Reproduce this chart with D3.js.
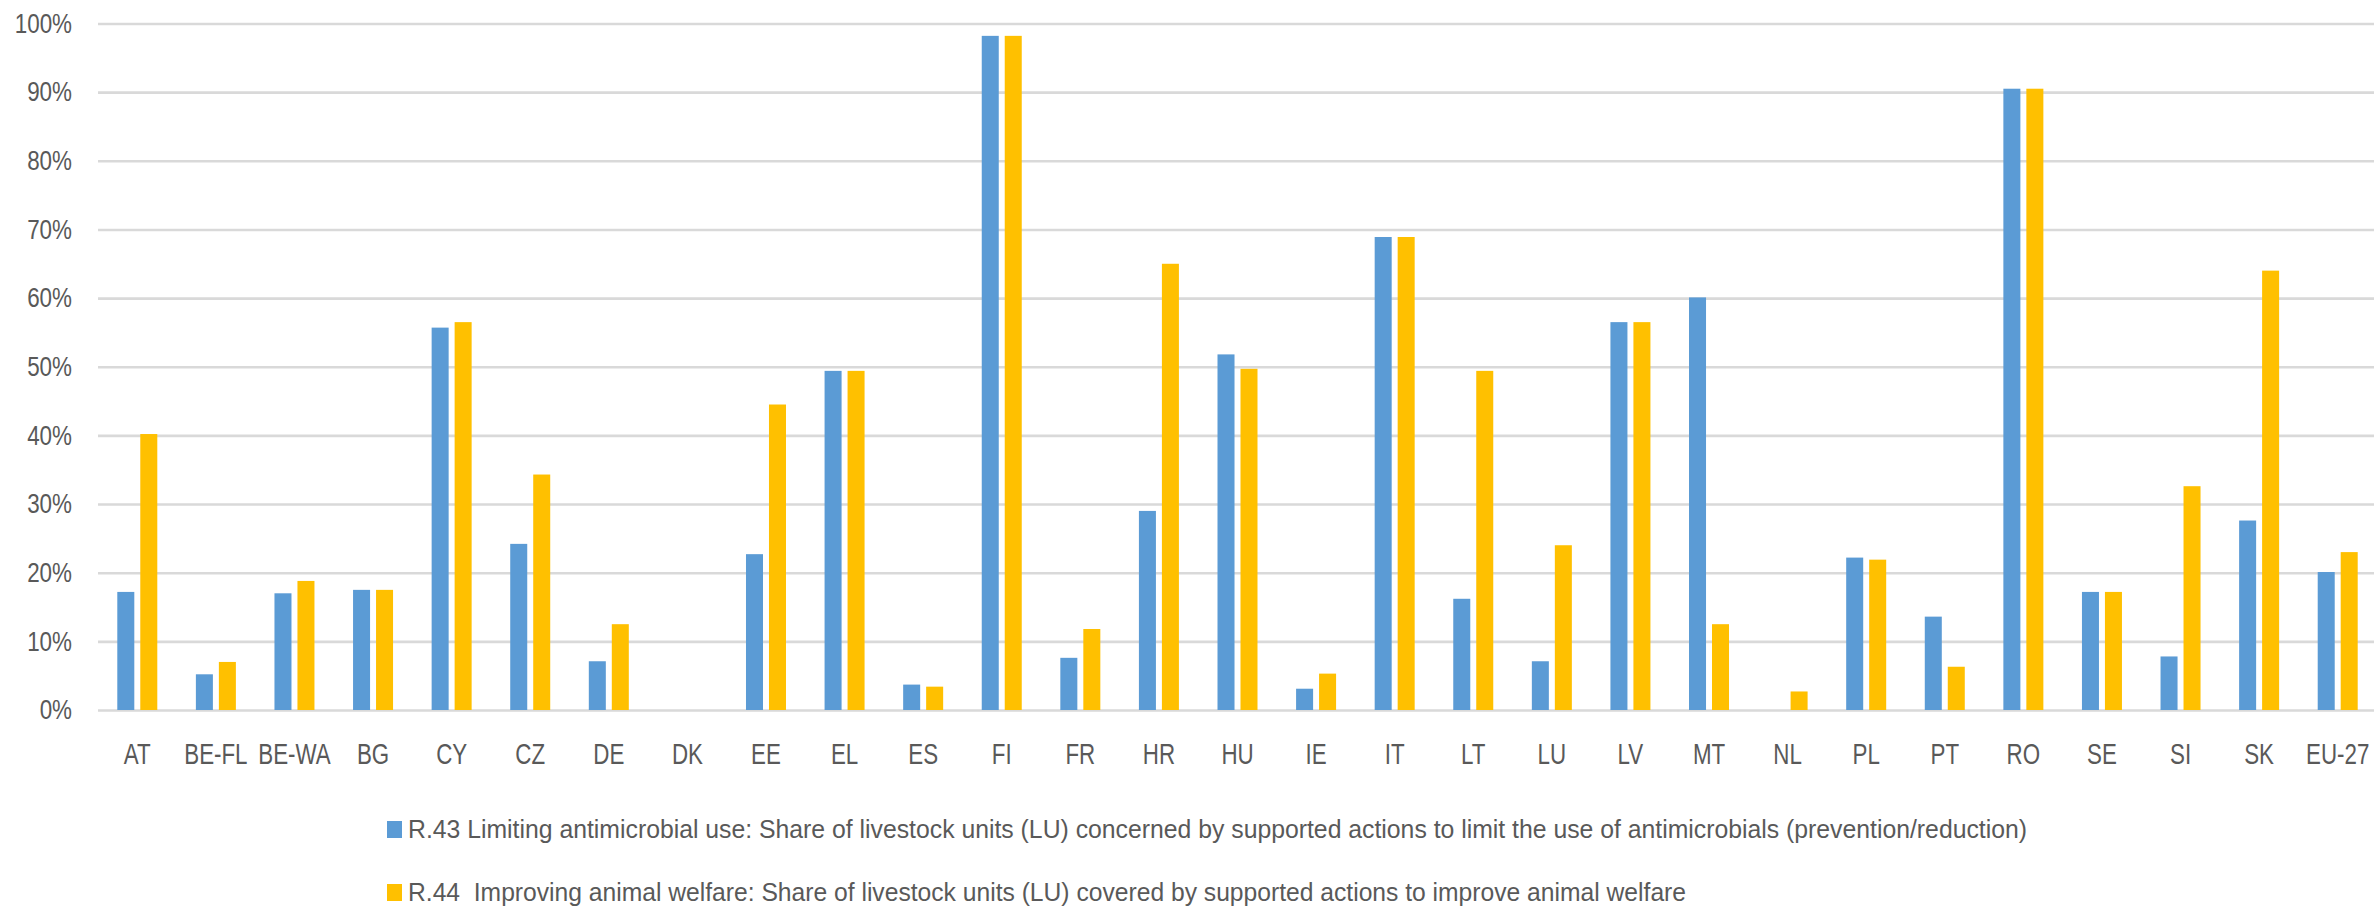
<!DOCTYPE html>
<html>
<head>
<meta charset="utf-8">
<script src="https://cdn.jsdelivr.net/npm/d3@7"></script>
<style>
  html, body { margin: 0; padding: 0; background: #ffffff; }
  svg { display: block; }
  text { font-family: "Liberation Sans", Arial, sans-serif; fill: #595959; }
</style>
</head>
<body>
<svg id="chart" width="2374" height="907"></svg>
<script>
const categories = ["AT","BE-FL","BE-WA","BG","CY","CZ","DE","DK","EE","EL","ES","FI","FR","HR","HU","IE","IT","LT","LU","LV","MT","NL","PL","PT","RO","SE","SI","SK","EU-27"];
const r43 = [0.172,0.052,0.170,0.175,0.557,0.242,0.071,0,0.227,0.494,0.037,0.982,0.076,0.290,0.518,0.031,0.689,0.162,0.071,0.565,0.601,0,0.222,0.136,0.905,0.172,0.078,0.276,0.201];
const r44 = [0.402,0.070,0.188,0.175,0.565,0.343,0.125,0,0.445,0.494,0.034,0.982,0.118,0.650,0.497,0.053,0.689,0.494,0.240,0.565,0.125,0.027,0.219,0.063,0.905,0.172,0.326,0.640,0.230];
const seriesNames = ["R.43 Limiting antimicrobial use: Share of livestock units (LU) concerned by supported actions to limit the use of antimicrobials (prevention/reduction)",
                     "R.44  Improving animal welfare: Share of livestock units (LU) covered by supported actions to improve animal welfare"];
const seriesKeys = ["r43","r44"];
const yTicks = [0,0.1,0.2,0.3,0.4,0.5,0.6,0.7,0.8,0.9,1.0];
const colors = ["#5b9bd5","#ffc000"];

const rows = categories.map((c,i) => ({cat:c, r43:r43[i], r44:r44[i]}));

const svg = d3.select("#chart");
const x0 = d3.scaleBand().domain(categories).range([98, 2377]).paddingInner(0).paddingOuter(0);
const bw = x0.bandwidth();
const x1 = d3.scaleBand().domain(seriesKeys).range([bw/2 - 20, bw/2 + 20]).paddingInner(0.26).paddingOuter(0);
const y = d3.scaleLinear().domain([0,1]).range([710, 23.5]);
const color = d3.scaleOrdinal().domain(seriesKeys).range(colors);

// gridlines
const grid = d3.axisLeft(y).tickValues(yTicks).tickSize(-(2374 - 98)).tickFormat("");
svg.append("g").attr("transform","translate(98,0)").call(grid)
  .call(g => g.select(".domain").remove())
  .call(g => g.selectAll("line").attr("stroke","#d9d9d9").attr("stroke-width",2.6));

// y labels
const yAxis = d3.axisLeft(y).tickValues(yTicks).tickSize(0).tickPadding(0).tickFormat(d3.format(".0%"));
svg.append("g").attr("transform","translate(72,0)").call(yAxis)
  .call(g => g.select(".domain").remove())
  .call(g => g.selectAll("text").attr("font-size",27).attr("fill","#595959").attr("font-family",null)
                .attr("transform","scale(0.83,1)"));

// bars
svg.append("g").selectAll("g").data(rows).join("g")
  .attr("transform", d => `translate(${x0(d.cat)},0)`)
  .selectAll("rect").data(d => seriesKeys.map(k => ({key:k, value:d[k]}))).join("rect")
  .attr("x", d => x1(d.key))
  .attr("width", x1.bandwidth())
  .attr("y", d => y(d.value))
  .attr("height", d => y(0) - y(d.value))
  .attr("fill", d => color(d.key));

// x labels
const xAxis = d3.axisBottom(x0).tickSize(0).tickPadding(0);
svg.append("g").attr("transform","translate(0,764)").call(xAxis)
  .call(g => g.select(".domain").remove())
  .call(g => g.selectAll("text").attr("font-size",29).attr("fill","#595959").attr("font-family",null)
                .attr("dy","0").attr("transform","scale(0.77,1)"));

// legend
const legendY = [838, 901];
const legendLen = [1619, 1278];
const lg = svg.append("g");
seriesKeys.forEach((k,i) => {
  lg.append("rect").attr("x",387).attr("y",legendY[i]-17).attr("width",15).attr("height",17).attr("fill",colors[i]);
  lg.append("text").attr("x",408).attr("y",legendY[i]).attr("font-size",26)
    .attr("xml:space","preserve").style("white-space","pre")
    .attr("textLength",legendLen[i]).attr("lengthAdjust","spacingAndGlyphs")
    .text(seriesNames[i]);
});
</script>
</body>
</html>
